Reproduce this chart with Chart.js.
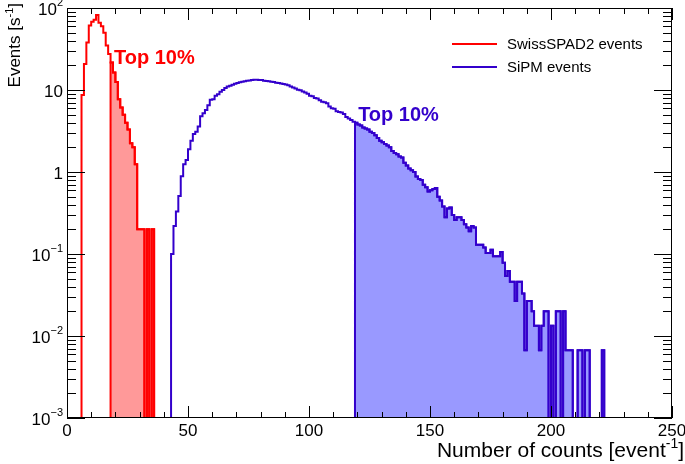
<!DOCTYPE html>
<html><head><meta charset="utf-8">
<script src="https://cdn.jsdelivr.net/npm/chart.js@4.4.1/dist/chart.umd.min.js"></script>
<style>html,body{margin:0;padding:0;background:#fff;}#wrap{width:685px;height:464px;}</style>
</head><body><div id="wrap"><canvas id="c" width="685" height="464"></canvas></div>
<script>
// ---------- data (rates in events per second, 1-count-wide bins) ----------
const seriesNames = ['SwissSPAD2 events', 'SiPM events'];
const seriesColors = ['#ff0000', '#3300cc'];
const fillColors = ['rgba(255,0,0,0.4)', 'rgba(0,0,255,0.4)'];

const spadFirstBin = 6;
const spadRate = [8.7, 20.7, 38, 61, 68, 72, 82, 66, 60, 50,
  35, 27.5, 21.7, 16.4, 12.5, 7.7, 6.1, 5.0, 4.0, 3.3,
  2.24, 2.0, 1.24, 0.2, 0.2, 0.2, 0, 0.2, 0, 0.2];
const spadTopFrom = 18;

const sipmFirstBin = 43;
const sipmRate = [
  0.1, 0.22, 0.33, 0.51, 0.89, 1.24, 1.4, 1.89, 2.4, 2.9,
  3.1, 3.6, 4.8, 5.2, 5.7, 6.5, 7.6, 7.7, 8.5, 8.9,
  9.5, 10.0, 10.6, 11.0, 11.3, 11.6, 11.9, 12.2, 12.4, 12.6,
  12.8, 13.0, 13.1, 13.2, 13.3, 13.3, 13.2, 13.2, 13.0, 12.9,
  12.8, 12.6, 12.5, 12.3, 12.2, 12.0, 11.8, 11.7, 11.4, 11.0,
  10.7, 10.4, 10.1, 9.9, 9.6, 9.3, 9.0, 8.5, 8.4, 8.0,
  7.9, 7.5, 7.2, 7.1, 6.9, 6.3, 6.0, 5.9, 5.5, 5.4,
  5.3, 5.1, 4.7, 4.5, 4.3, 4.1, 4.0, 3.8, 3.7, 3.5,
  3.4, 3.3, 3.1, 3.0, 2.8, 2.6, 2.4, 2.3, 2.2, 2.1,
  2.0, 1.8, 1.7, 1.65, 1.55, 1.5, 1.3, 1.2, 1.1, 1.05,
  1.0, 0.88, 0.82, 0.8, 0.7, 0.65, 0.58, 0.6, 0.62, 0.64,
  0.5, 0.45, 0.38, 0.28, 0.36, 0.37, 0.3, 0.26, 0.28, 0.28,
  0.26, 0.23, 0.21, 0.19, 0.22, 0.21, 0.13, 0.13, 0.13, 0.12,
  0.103, 0.103, 0.113, 0.094, 0.094, 0.094, 0.106, 0.078, 0.054, 0.062,
  0.046, 0.046, 0.0267, 0.046, 0.046, 0.033, 0.0067, 0.0267, 0.0267, 0.02,
  0.0133, 0.0133, 0.0067, 0.0133, 0.02, 0.02, 0, 0.0133, 0, 0.02,
  0.02, 0, 0.02, 0.0067, 0.0067, 0.0067, 0, 0, 0.0067, 0.0067,
  0, 0.0067, 0.0067, 0, 0, 0, 0, 0, 0.0067];
const sipmTopFrom = 119;

const xRange = [0, 250];
const yRange = [1e-3, 1e2];
const xMajorTicks = [0, 50, 100, 150, 200, 250];
const xMinorStep = 10;
const yTickValues = [1e2, 10, 1, 1e-1, 1e-2, 1e-3];
const yTickBase = ['10', '10', '1', '10', '10', '10'];
const yTickExp = ['2', '', '', '\u22121', '\u22122', '\u22123'];

const annoText = ['Top 10%', 'Top 10%'];
const annoX = [19.4, 120.3];
const annoY = [20.5, 4.2];

const xTitle = [['Number of counts [event', false], ['-1', true], [']', false]];
const yTitle = [['Events [s', false], ['-1', true], [']', false]];

// ---------- build histogram point lists ----------
function rateAt(first, vals, b) {
  const i = b - first;
  return (i >= 0 && i < vals.length) ? vals[i] : 0;
}
function lineSeries(first, vals) {
  const pts = [];
  for (let b = xRange[0]; b < xRange[1]; b++) {
    const v = rateAt(first, vals, b);
    pts.push({ x: b, y: v > 0 ? v : yRange[0] });
  }
  const last = pts[pts.length - 1];
  pts.push({ x: xRange[1], y: last.y });
  return pts;
}
function topSeries(first, vals, from) {
  const pts = [{ x: from, y: yRange[0] }];
  const end = first + vals.length;
  for (let b = from; b < end; b++) {
    const v = rateAt(first, vals, b);
    pts.push({ x: b, y: v > 0 ? v : yRange[0] });
  }
  pts.push({ x: end, y: yRange[0] });
  return pts;
}

const FONT = '"Liberation Sans", Arial, Helvetica, sans-serif';

function drawRich(c, parts, x, y, size, align, weight) {
  weight = weight || 'normal';
  const supSize = Math.round(size * 0.65);
  let w = 0;
  const ws = parts.map(p => {
    c.font = weight + ' ' + (p[1] ? supSize : size) + 'px ' + FONT;
    const m = c.measureText(p[0]).width; w += m; return m;
  });
  let cx = align === 'right' ? x - w : (align === 'center' ? x - w / 2 : x);
  c.textAlign = 'left';
  parts.forEach((p, i) => {
    c.font = weight + ' ' + (p[1] ? supSize : size) + 'px ' + FONT;
    c.fillText(p[0], cx, p[1] ? y - size * 0.42 : y);
    cx += ws[i];
  });
}

const rootPlugin = {
  id: 'rootStyle',
  afterDatasetsDraw(chart) {
    const c = chart.ctx, a = chart.chartArea, xs = chart.scales.x, ys = chart.scales.y;
    c.save();
    // frame
    c.strokeStyle = '#000'; c.lineWidth = 1;
    c.strokeRect(a.left + 0.5, a.top + 0.5, a.right - a.left - 1, a.bottom - a.top - 1);
    // x ticks (bottom and top)
    c.beginPath();
    for (let v = xRange[0]; v <= xRange[1]; v += xMinorStep) {
      const px = Math.round(xs.getPixelForValue(v)) + 0.5;
      const len = xMajorTicks.includes(v) ? 12 : 6;
      c.moveTo(px, a.bottom); c.lineTo(px, a.bottom - len);
      c.moveTo(px, a.top); c.lineTo(px, a.top + len);
    }
    // y ticks (left and right)
    for (let d = -3; d <= 1; d++) {
      for (let m = 1; m <= 9; m++) {
        const v = m * Math.pow(10, d);
        const py = Math.round(ys.getPixelForValue(v)) + 0.5;
        const len = m === 1 ? 18 : 9;
        c.moveTo(a.left, py); c.lineTo(a.left + len, py);
        c.moveTo(a.right, py); c.lineTo(a.right - len, py);
      }
    }
    c.stroke();
    // tick labels
    c.fillStyle = '#000';
    c.textBaseline = 'top';
    c.font = '17px ' + FONT;
    c.textAlign = 'center';
    xMajorTicks.forEach(v => {
      c.fillText(String(v), xs.getPixelForValue(v), a.bottom + 5);
    });
    c.textBaseline = 'middle';
    yTickValues.forEach((v, i) => {
      const parts = [[yTickBase[i], false]];
      if (yTickExp[i]) parts.push([yTickExp[i], true]);
      drawRich(c, parts, a.left - 4, ys.getPixelForValue(v) + 2, 17, 'right');
    });
    // axis titles
    c.textBaseline = 'alphabetic';
    drawRich(c, xTitle, 684, 457, 21, 'right');
    c.save();
    c.translate(20, 3);
    c.rotate(-Math.PI / 2);
    drawRich(c, yTitle, 0, 0, 17, 'right');
    c.restore();
    // Top 10% annotations
    annoText.forEach((t, i) => {
      c.fillStyle = seriesColors[i];
      drawRich(c, [[t, false]], xs.getPixelForValue(annoX[i]), ys.getPixelForValue(annoY[i]), 20, 'left', 'bold');
    });
    // legend
    c.textBaseline = 'middle';
    seriesNames.forEach((n, i) => {
      const ly = 44 + i * 23;
      c.strokeStyle = seriesColors[i]; c.lineWidth = 2;
      c.beginPath(); c.moveTo(452, ly); c.lineTo(497, ly); c.stroke();
      c.fillStyle = '#000';
      drawRich(c, [[n, false]], 507, ly + 1, 15, 'left');
    });
    c.restore();
  }
};

new Chart(document.getElementById('c'), {
  type: 'line',
  data: {
    datasets: [
      { label: seriesNames[0], data: lineSeries(spadFirstBin, spadRate), borderColor: seriesColors[0],
        borderWidth: 2, stepped: 'before', pointRadius: 0, fill: false },
      { label: seriesNames[1], data: lineSeries(sipmFirstBin, sipmRate), borderColor: seriesColors[1],
        borderWidth: 2, stepped: 'before', pointRadius: 0, fill: false },
      { label: 'top1', data: topSeries(spadFirstBin, spadRate, spadTopFrom), borderColor: seriesColors[0],
        backgroundColor: fillColors[0], borderWidth: 2, stepped: 'before', pointRadius: 0, fill: 'start' },
      { label: 'top2', data: topSeries(sipmFirstBin, sipmRate, sipmTopFrom), borderColor: seriesColors[1],
        backgroundColor: fillColors[1], borderWidth: 2, stepped: 'before', pointRadius: 0, fill: 'start' }
    ]
  },
  options: {
    responsive: false, animation: false, devicePixelRatio: 1,
    layout: { padding: { left: 67, top: 8, right: 13, bottom: 46 } },
    plugins: { legend: { display: false }, tooltip: { enabled: false } },
    scales: {
      x: { type: 'linear', min: xRange[0], max: xRange[1], display: false },
      y: { type: 'logarithmic', min: yRange[0], max: yRange[1], display: false }
    }
  },
  plugins: [rootPlugin]
});
</script></body></html>
